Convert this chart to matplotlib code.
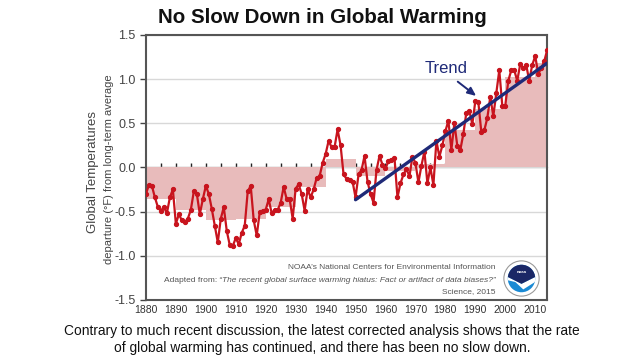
import numpy as np
import matplotlib
matplotlib.use('Agg')
import matplotlib.pyplot as plt
from matplotlib.patches import Circle, Polygon

plt.rcParams['font.family'] = ['Liberation Sans', 'DejaVu Sans']

# ------- data (deg F departure from long-term average) -------
years = np.arange(1880, 2015)
temps = [
    -0.30, -0.20, -0.21, -0.34, -0.45, -0.49, -0.45, -0.52, -0.34, -0.25,   # 1880s
    -0.64, -0.53, -0.60, -0.62, -0.58, -0.48, -0.27, -0.30, -0.53, -0.36,   # 1890s
    -0.21, -0.30, -0.47, -0.66, -0.85, -0.58, -0.45, -0.72, -0.88, -0.89,   # 1900s
    -0.80, -0.87, -0.74, -0.66, -0.27, -0.21, -0.60, -0.77, -0.51, -0.49,   # 1910s
    -0.48, -0.36, -0.52, -0.48, -0.48, -0.40, -0.22, -0.36, -0.36, -0.58,   # 1920s
    -0.24, -0.19, -0.30, -0.49, -0.25, -0.34, -0.25, -0.12, -0.10, 0.05,    # 1930s
    0.15, 0.30, 0.23, 0.23, 0.43, 0.25, -0.08, -0.13, -0.14, -0.16,         # 1940s
    -0.34, -0.08, -0.03, 0.13, -0.16, -0.30, -0.40, -0.03, 0.13, 0.03,      # 1950s
    -0.01, 0.07, 0.08, 0.11, -0.34, -0.18, -0.08, -0.02, -0.10, 0.12,       # 1960s
    0.05, -0.17, 0.02, 0.18, -0.18, 0.00, -0.20, 0.30, 0.12, 0.25,          # 1970s
    0.41, 0.53, 0.20, 0.50, 0.24, 0.20, 0.38, 0.62, 0.64, 0.49,             # 1980s
    0.75, 0.74, 0.40, 0.42, 0.56, 0.80, 0.58, 0.84, 1.10, 0.70,             # 1990s
    0.70, 0.98, 1.10, 1.10, 0.98, 1.17, 1.12, 1.16, 0.98, 1.16,             # 2000s
    1.26, 1.06, 1.12, 1.20, 1.33,                                           # 2010s
]
temps = np.array(temps)

decades = np.arange(1880, 2020, 10)
decade_means = [-0.36, -0.48, -0.60, -0.58, -0.45, -0.22, 0.09,
                -0.10, -0.04, 0.04, 0.42, 0.66, 1.02, 1.18]

trend_start, trend_end = 1950, 2014

caption = ("Contrary to much recent discussion, the latest corrected analysis shows that the rate\n"
           "of global warming has continued, and there has been no slow down.")

red = '#c8141e'
navy = '#1f2a78'
gray_txt = '#555555'

#-------Plotting-------
fig = plt.figure(figsize=(6.4, 3.6), dpi=100)
ax = fig.add_axes([0.228, 0.167, 0.627, 0.736])

ax.bar(decades, decade_means, width=10, align='edge', color='#e8bbbb', zorder=1)
ax.plot(years, temps, color=red, lw=1.6, marker='o', ms=2.8, zorder=3)

# trend 1950-2014
mask = years >= trend_start
fit = np.polyfit(years[mask], temps[mask], 1)
tx = np.array([trend_start, trend_end])
ax.plot(tx, np.polyval(fit, tx), color=navy, lw=2.4, zorder=4, solid_capstyle='round')

ax.text(1980.2, 1.12, 'Trend', color=navy, fontsize=12, ha='center', va='center')
ax.annotate('', xy=(1991, 0.79), xytext=(1983.4, 0.99),
            arrowprops=dict(arrowstyle='-|>,head_length=0.5,head_width=0.22', color=navy, lw=1.4))

ax.set_xlim(1880, 2014)
ax.set_ylim(-1.5, 1.5)
ax.set_yticks([1.5, 1.0, 0.5, 0.0, -0.5, -1.0, -1.5])
ax.set_yticklabels(['1.5', '1.0', '0.5', '0.0', '-0.5', '-1.0', '-1.5'])
ax.set_xticks(np.arange(1880, 2020, 10))
ax.tick_params(axis='y', labelsize=9, labelcolor='#444444', length=4, width=1, color='#444444')
ax.tick_params(axis='x', labelsize=7.5, labelcolor='#333333', length=0, pad=4)

ax.grid(axis='y', color='#d8d8d8', lw=1)
ax.set_axisbelow(True)
for s in ax.spines.values():
    s.set_color('#555555')
    s.set_linewidth(1.5)

# zero line with 5-year ticks
zero = ax.secondary_xaxis(0.5)
zero.set_xticks(np.arange(1885, 2014, 5))
zero.set_xticklabels([])
zero.tick_params(direction='out', length=3, width=1, color='#222222')
zero.spines['bottom'].set_color('#222222')
zero.spines['bottom'].set_linewidth(1.5)

# titles and labels
fig.text(0.503, 0.952, 'No Slow Down in Global Warming', ha='center', va='center',
         fontsize=14.8, fontweight='bold', color='#111111')
fig.text(0.146, 0.522, 'Global Temperatures', rotation=90, ha='center', va='center',
         fontsize=9.5, color='#444444')
fig.text(0.170, 0.530, 'departure (\u00b0F) from long-term average', rotation=90,
         ha='center', va='center', fontsize=8, color='#444444')
fig.text(0.503, 0.056, caption, ha='center', va='center', fontsize=9.9,
         color='#111111', linespacing=1.3)

# credit block
fig.text(0.775, 0.256, 'NOAA\u2019s National Centers for Environmental Information',
         ha='right', va='center', fontsize=6, color=gray_txt)
t_it = fig.text(0.775, 0.222,
                'The recent global surface warming hiatus: Fact or artifact of data biases?\u201d',
                ha='right', va='center', fontsize=6, color=gray_txt, style='italic')
fig.canvas.draw()
bb = t_it.get_window_extent()
fig.text(bb.x0 / fig.bbox.width, 0.222, 'Adapted from: \u201c', ha='right', va='center',
         fontsize=6, color=gray_txt)
fig.text(0.775, 0.189, 'Science, 2015', ha='right', va='center', fontsize=6, color=gray_txt)

# rough NOAA emblem
lax = fig.add_axes([503 / 640, 63 / 360, 37 / 640, 37 / 360])
lax.set_xlim(-1.05, 1.05)
lax.set_ylim(-1.05, 1.05)
lax.set_aspect('equal')
lax.axis('off')
lax.add_patch(Circle((0, 0), 1.0, facecolor='white', edgecolor='#9a9a9a', lw=0.8))
inner = Circle((0, 0), 0.78, facecolor='#1a8ad4', edgecolor='none')
lax.add_patch(inner)
band = Polygon([(-1, 0.2), (0, -0.3), (1, 0.2), (1, -0.05), (0.1, -0.62), (-0.35, -0.2), (-1, -0.05)],
               facecolor='white', edgecolor='none')
lax.add_patch(band)
band.set_clip_path(inner)
top = Polygon([(-1, 1), (1, 1), (1, 0.2), (0, -0.3), (-1, 0.2)], facecolor='#1b2766', edgecolor='none')
lax.add_patch(top)
top.set_clip_path(inner)
lax.text(0, 0.38, 'noaa', color='white', fontsize=3.2, fontweight='bold', ha='center', va='center')

plt.savefig('out.png', dpi=100)
